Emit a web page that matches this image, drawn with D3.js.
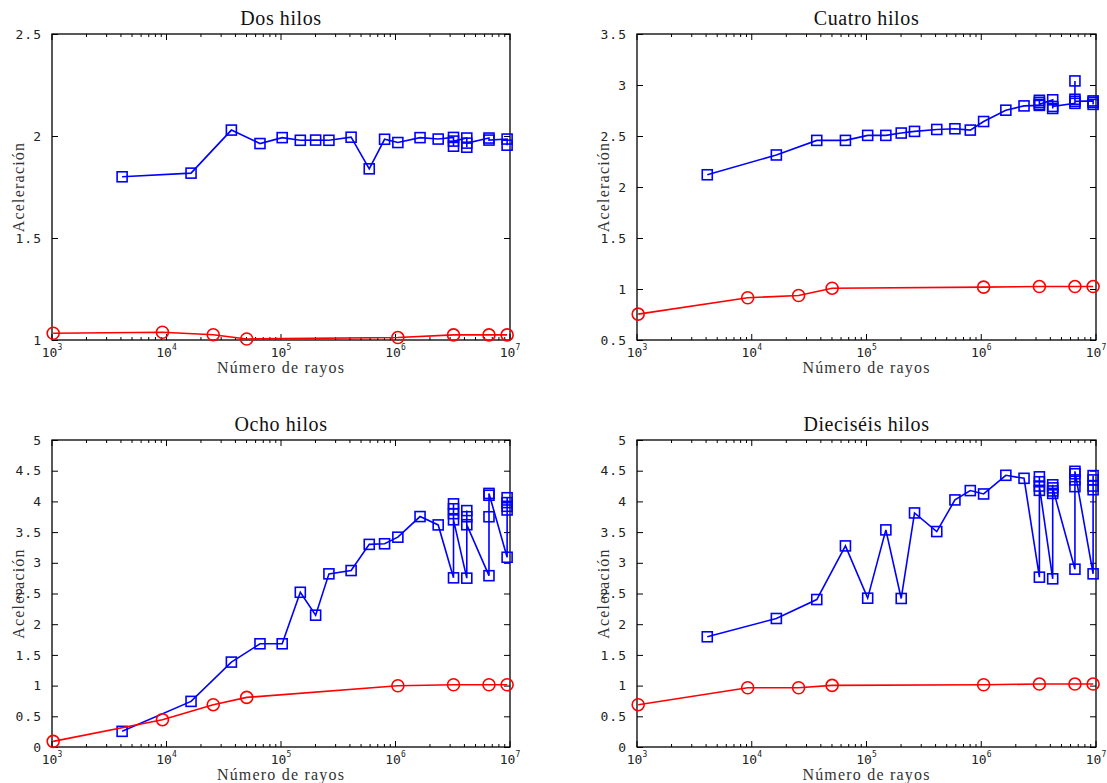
<!DOCTYPE html>
<html>
<head>
<meta charset="utf-8">
<script src="https://cdn.jsdelivr.net/npm/d3@7"></script>
<style>
  body { margin: 0; background: #fff; }
  .tick-label { font-family: "DejaVu Sans Mono", "Liberation Mono", monospace; font-size: 13px; fill: #222; }
  .title { font-family: "Liberation Serif", "DejaVu Serif", serif; font-size: 20px; fill: #111; letter-spacing: 0.6px; }
  .axis-label { font-family: "Liberation Serif", "DejaVu Serif", serif; font-size: 16px; fill: #333; letter-spacing: 1.2px; }
</style>
</head>
<body>
<svg id="chart" width="1107" height="783"></svg>
<script>
// rays (number of rays) - blue series shares these first points
var baseRays = [4096, 16384, 36864, 65536, 102400, 147456, 200704, 262144, 409600, 589824, 802816, 1048576, 1638400, 2359296];
// last four sizes have several runs each (stacked markers)
var colRays = [3211264, 4194304, 6553600, 9437184];
var redRays = [1024, 9216, 25600, 50176, 1048576, 3211264, 6553600, 9437184];

// Dos hilos
var dosBlue = [1.80, 1.818, 2.029, 1.963, 1.992, 1.979, 1.98, 1.979, 1.994, 1.839, 1.984, 1.968, 1.992, 1.985];
var dosCols = [[1.993, 1.950, 1.975], [1.990, 1.945, 1.965], [1.990, 1.980], [1.985, 1.955]];
var dosRed = [1.033, 1.038, 1.026, 1.005, 1.012, 1.025, 1.025, 1.025];

// Cuatro hilos
var cuatroBlue = [2.12, 2.314, 2.457, 2.457, 2.506, 2.506, 2.529, 2.545, 2.564, 2.571, 2.558, 2.642, 2.753, 2.795];
var cuatroCols = [[2.80, 2.85, 2.83, 2.81], [2.855, 2.77, 2.79], [2.82, 3.04, 2.86, 2.84], [2.844, 2.81, 2.83]];
var cuatroRed = [0.754, 0.914, 0.936, 1.008, 1.018, 1.024, 1.024, 1.024];

// Ocho hilos
var ochoBlue = [0.255, 0.743, 1.383, 1.681, 1.681, 2.52, 2.147, 2.82, 2.874, 3.30, 3.31, 3.417, 3.753, 3.617];
var ochoCols = [[2.755, 3.96, 3.88, 3.80, 3.70], [2.75, 3.85, 3.75, 3.62], [2.79, 3.75, 4.10, 4.13], [3.09, 3.86, 3.92, 3.98, 4.06]];
var ochoRed = [0.092, 0.445, 0.689, 0.808, 0.998, 1.014, 1.014, 1.014];

// Dieciseis hilos
var dieciBlue = [1.795, 2.093, 2.402, 3.275, 2.424, 3.536, 2.419, 3.812, 3.509, 4.024, 4.176, 4.121, 4.425, 4.376];
var dieciCols = [[2.766, 4.40, 4.32, 4.18, 4.25], [2.739, 4.27, 4.13, 4.17, 4.22], [2.896, 4.24, 4.35, 4.45, 4.49], [2.82, 4.19, 4.25, 4.35, 4.42]];
var dieciRed = [0.689, 0.965, 0.965, 1.003, 1.014, 1.025, 1.025, 1.025];

var titles = ["Dos hilos", "Cuatro hilos", "Ocho hilos", "Dieciséis hilos"];
var yDomains = [[1, 2.5], [0.5, 3.5], [0, 5], [0, 5]];
var xTickExps = [3, 4, 5, 6, 7];

var panels = [
  {left: 52, top: 34, right: 510, bottom: 340, blue: dosBlue, cols: dosCols, red: dosRed},
  {left: 637, top: 34, right: 1096, bottom: 340, blue: cuatroBlue, cols: cuatroCols, red: cuatroRed},
  {left: 52, top: 440, right: 510, bottom: 747, blue: ochoBlue, cols: ochoCols, red: ochoRed},
  {left: 637, top: 440, right: 1096, bottom: 747, blue: dieciBlue, cols: dieciCols, red: dieciRed}
];

var svg = d3.select("#chart");

panels.forEach(function(p, i) {
  var w = p.right - p.left, h = p.bottom - p.top;
  var g = svg.append("g").attr("transform", "translate(" + p.left + "," + p.top + ")");

  var x = d3.scaleLog().domain([1e3, 1e7]).range([0, w]);
  var y = d3.scaleLinear().domain(yDomains[i]).range([h, 0]);

  // build blue series (including the stacked runs)
  var blueData = baseRays.map(function(r, k) { return {x: r, y: p.blue[k]}; });
  p.cols.forEach(function(vals, c) {
    vals.forEach(function(v) { blueData.push({x: colRays[c], y: v}); });
  });
  var redData = redRays.map(function(r, k) { return {x: r, y: p.red[k]}; });

  // y ticks
  var yTicks = d3.range(yDomains[i][0], yDomains[i][1] + 0.001, 0.5);
  var yAxisL = d3.axisLeft(y).tickValues(yTicks).tickSizeInner(-6).tickSizeOuter(0).tickPadding(10)
    .tickFormat(function(d) { return d3.format("")(+d.toFixed(1)); });
  var ga = g.append("g").call(yAxisL);
  ga.select(".domain").remove();
  ga.selectAll("text").attr("class", "tick-label").attr("letter-spacing", 1);
  ga.selectAll("line").attr("stroke", "#000");

  var yAxisR = d3.axisRight(y).tickValues(yTicks).tickSizeInner(-6).tickSizeOuter(0).tickFormat("");
  var gr = g.append("g").attr("transform", "translate(" + w + ",0)").call(yAxisR);
  gr.select(".domain").remove();

  // x ticks: majors at decades, minors 2..9
  var minors = [];
  for (var e = 3; e < 7; e++) for (var m = 2; m <= 9; m++) minors.push(m * Math.pow(10, e));
  [0, h].forEach(function(yy) {
    var dir = yy === 0 ? 1 : -1;
    g.selectAll(null).data(minors).enter().append("line")
      .attr("x1", function(d) { return x(d); }).attr("x2", function(d) { return x(d); })
      .attr("y1", yy).attr("y2", yy + dir * 3).attr("stroke", "#000");
    g.selectAll(null).data(xTickExps).enter().append("line")
      .attr("x1", function(d) { return x(Math.pow(10, d)); }).attr("x2", function(d) { return x(Math.pow(10, d)); })
      .attr("y1", yy).attr("y2", yy + dir * 6).attr("stroke", "#000");
  });

  var xl = g.selectAll(null).data(xTickExps).enter().append("text")
    .attr("class", "tick-label")
    .attr("x", function(d) { return x(Math.pow(10, d)); })
    .attr("y", h + 17)
    .attr("text-anchor", "middle");
  xl.append("tspan").text("10");
  xl.append("tspan").attr("dy", -7).attr("font-size", 8).text(function(d) { return d; });

  // box
  g.append("rect").attr("width", w).attr("height", h)
    .attr("fill", "none").attr("stroke", "#000").attr("stroke-width", 1.3);

  var line = d3.line().x(function(d) { return x(d.x); }).y(function(d) { return y(d.y); });

  // blue: squares
  g.append("path").datum(blueData).attr("d", line)
    .attr("fill", "none").attr("stroke", "#0000ff").attr("stroke-width", 1.6);
  g.selectAll(null).data(blueData).enter().append("rect")
    .attr("x", function(d) { return x(d.x) - 5; })
    .attr("y", function(d) { return y(d.y) - 5; })
    .attr("width", 10).attr("height", 10)
    .attr("fill", "none").attr("stroke", "#0000ff").attr("stroke-width", 1.6);

  // red: circles
  g.append("path").datum(redData).attr("d", line)
    .attr("fill", "none").attr("stroke", "#ff0000").attr("stroke-width", 1.6);
  g.selectAll(null).data(redData).enter().append("circle")
    .attr("cx", function(d) { return x(d.x); })
    .attr("cy", function(d) { return y(d.y); })
    .attr("r", 6)
    .attr("fill", "none").attr("stroke", "#ff0000").attr("stroke-width", 1.6);

  // texts
  g.append("text").attr("class", "title")
    .attr("x", w / 2).attr("y", -9).attr("text-anchor", "middle").text(titles[i]);
  g.append("text").attr("class", "axis-label")
    .attr("x", w / 2).attr("y", h + 33).attr("text-anchor", "middle").text("Número de rayos");
  g.append("text").attr("class", "axis-label")
    .attr("transform", "translate(-28," + (h / 2) + ") rotate(-90)")
    .attr("text-anchor", "middle").text("Aceleración");
});
</script>
</body>
</html>
